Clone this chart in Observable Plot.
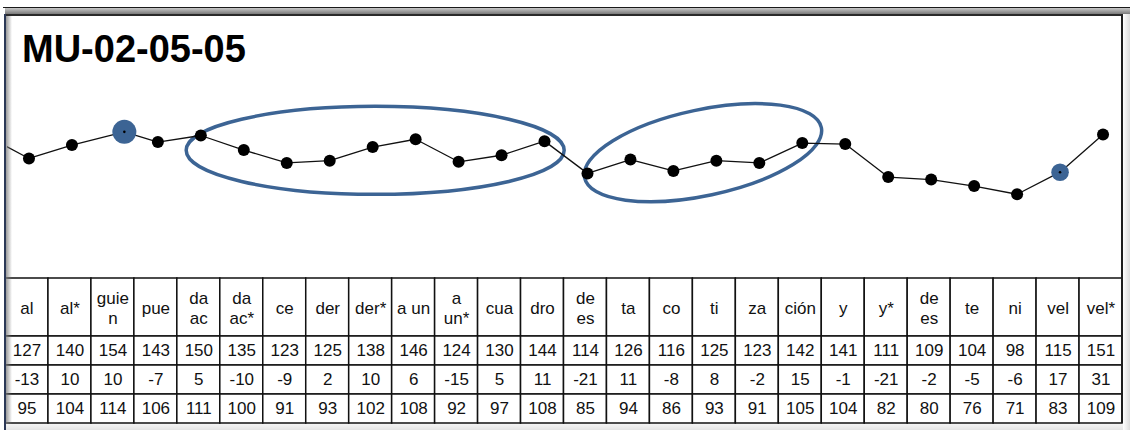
<!DOCTYPE html>
<html>
<head>
<meta charset="utf-8">
<script src="https://cdn.jsdelivr.net/npm/d3@7"></script>
<script src="https://cdn.jsdelivr.net/npm/@observablehq/plot@0.6"></script>
<style>
  html, body { margin: 0; padding: 0; }
  body { width: 1130px; height: 430px; overflow: hidden; position: relative; background: #fff;
         font-family: "Liberation Sans", Arial, sans-serif; }
  .abs { position: absolute; }
  #title { left: 22px; top: 30px; font-size: 38px; line-height: 38px; font-weight: bold; color: #000; }
  #chart { left: 6.5px; top: 100px; }
  #table { left: 5px; top: 276.5px; }
  .fr { position: absolute; pointer-events: none; }
</style>
</head>
<body>
<div id="title" class="abs">MU-02-05-05</div>
<div id="chart" class="abs"></div>
<div id="table" class="abs"></div>

<!-- window frame -->
<div class="fr" style="left:3px;top:7px;width:1127px;height:1.2px;background:#1a1a1a"></div>
<div class="fr" style="left:5px;top:8.2px;width:1125px;height:6px;background:linear-gradient(#c8c8c8,#7a7a7a)"></div>
<div class="fr" style="left:5px;top:14px;width:1118px;height:1.5px;background:#2a2a2a"></div>
<div class="fr" style="left:4px;top:14px;width:1.6px;height:416px;background:#2b3856"></div>
<div class="fr" style="left:5.6px;top:15.5px;width:6px;height:415px;background:linear-gradient(to right,rgba(120,120,120,0.75),rgba(255,255,255,0))"></div>
<div class="fr" style="left:1121px;top:14px;width:1.6px;height:409px;background:#1f1f1f"></div>
<div class="fr" style="left:1122.6px;top:14px;width:7.4px;height:416px;background:linear-gradient(to right,#ffffff,#dcdcdc)"></div>
<div class="fr" style="left:5.6px;top:423.5px;width:1117px;height:6.5px;background:linear-gradient(#f4f4f4,#e4e4e4)"></div>

<script>
// ---- data ----
const syllables = ["al", "al*", "guie\nn", "pue", "da\nac", "da\nac*", "ce", "der", "der*", "a un", "a\nun*", "cua", "dro",
                   "de\nes", "ta", "co", "ti", "za", "ción", "y", "y*", "de\nes", "te", "ni", "vel", "vel*"];
const f0Hz   = [127, 140, 154, 143, 150, 135, 123, 125, 138, 146, 124, 130, 144, 114, 126, 116, 125, 123, 142, 141, 111, 109, 104, 98, 115, 151];
const delta  = [-13, 10, 10, -7, 5, -10, -9, 2, 10, 6, -15, 5, 11, -21, 11, -8, 8, -2, 15, -1, -21, -2, -5, -6, 17, 31];
const third  = [95, 104, 114, 106, 111, 100, 91, 93, 102, 108, 92, 97, 108, 85, 94, 86, 93, 91, 105, 104, 82, 80, 76, 71, 83, 109];
const timePos = [0, 1, 2.22, 3, 4, 5, 6, 7, 8, 9, 10, 11, 12, 13, 14, 15, 16, 17, 18, 19, 20, 21, 22, 23, 24, 25];
const leadInHz = 150;          // contour coming in from before the first syllable (cut by the frame)
const highlighted = [2, 24];   // guien, vel (blue markers)
const rings = [                // circled groups: centre (syllable position, Hz)
  {cx: 8.07, cy: 134.2, rx: 189, ry: 44, angle: 0},
  {cx: 15.7, cy: 132, rx: 121, ry: 43, angle: -12}
];

// ---- derived tables ----
const pts = f0Hz.map((f, i) => ({x: timePos[i], f, i}));
const lineData = [{x: -1, f: leadInHz}, ...pts];
const hi = highlighted.map(i => ({...pts[i], size: i === 2 ? 12 : 8.8}));

const blue = "#3c6494";
const W = 1117;

const chart = Plot.plot({
  width: W, height: 177,
  marginTop: 0, marginBottom: 0, marginLeft: 0, marginRight: 0,
  style: {overflow: "visible", background: "transparent"},
  x: {type: "linear", domain: [-0.5, 25.5], axis: null},
  y: {type: "log", domain: [85, 200], range: [113.4, -4.7], axis: null},
  r: {type: "identity"},
  marks: [
    (index, scales) => {
      const g = d3.create("svg:g");
      for (const e of rings) {
        const cx = scales.x(e.cx), cy = scales.y(e.cy);
        g.append("ellipse")
          .attr("cx", cx).attr("cy", cy).attr("rx", e.rx).attr("ry", e.ry)
          .attr("transform", `rotate(${e.angle} ${cx} ${cy})`)
          .attr("fill", "none").attr("stroke", blue).attr("stroke-width", 3.5);
      }
      return g.node();
    },
    Plot.line(lineData, {x: "x", y: "f", stroke: "#111", strokeWidth: 1.3, clip: true}),
    Plot.dot(pts, {x: "x", y: "f", r: 6, fill: "#000"}),
    Plot.dot(hi, {x: "x", y: "f", r: "size", fill: blue}),
    Plot.dot(hi, {x: "x", y: "f", r: 1.3, fill: "#000"})
  ]
});
document.getElementById("chart").append(chart);

// table
const header = syllables.map((s, i) => ({i, s}));
const rowsVals = [f0Hz, delta, third];
const body = rowsVals.flatMap((arr, r) => arr.map((v, i) => ({i, r, v})));

const table = Plot.plot({
  width: W, height: 147,
  marginTop: 0, marginBottom: 0, marginLeft: 0, marginRight: 0,
  style: {overflow: "visible", background: "transparent"},
  x: {type: "linear", domain: [-0.5, 25.5], axis: null},
  y: {type: "linear", domain: [0, 5], range: [1, 146], axis: null},
  marks: [
    Plot.rect(header, {x1: d => d.i - 0.5, x2: d => d.i + 0.5, y1: 0, y2: 2, fill: "white", stroke: "#111", strokeWidth: 1.5}),
    Plot.rect(body, {x1: d => d.i - 0.5, x2: d => d.i + 0.5, y1: d => d.r + 2, y2: d => d.r + 3, fill: "white", stroke: "#111", strokeWidth: 1.5}),
    Plot.text(header, {x: "i", y: 1, text: "s", fontSize: 17, lineHeight: 1.15, fill: "#111",
                       fontFamily: "Liberation Sans, Arial, sans-serif"}),
    Plot.text(body, {x: "i", y: d => d.r + 2.5, text: d => String(d.v), fontSize: 17, fill: "#111",
                     fontFamily: "Liberation Sans, Arial, sans-serif"})
  ]
});
document.getElementById("table").append(table);
</script>
</body>
</html>
